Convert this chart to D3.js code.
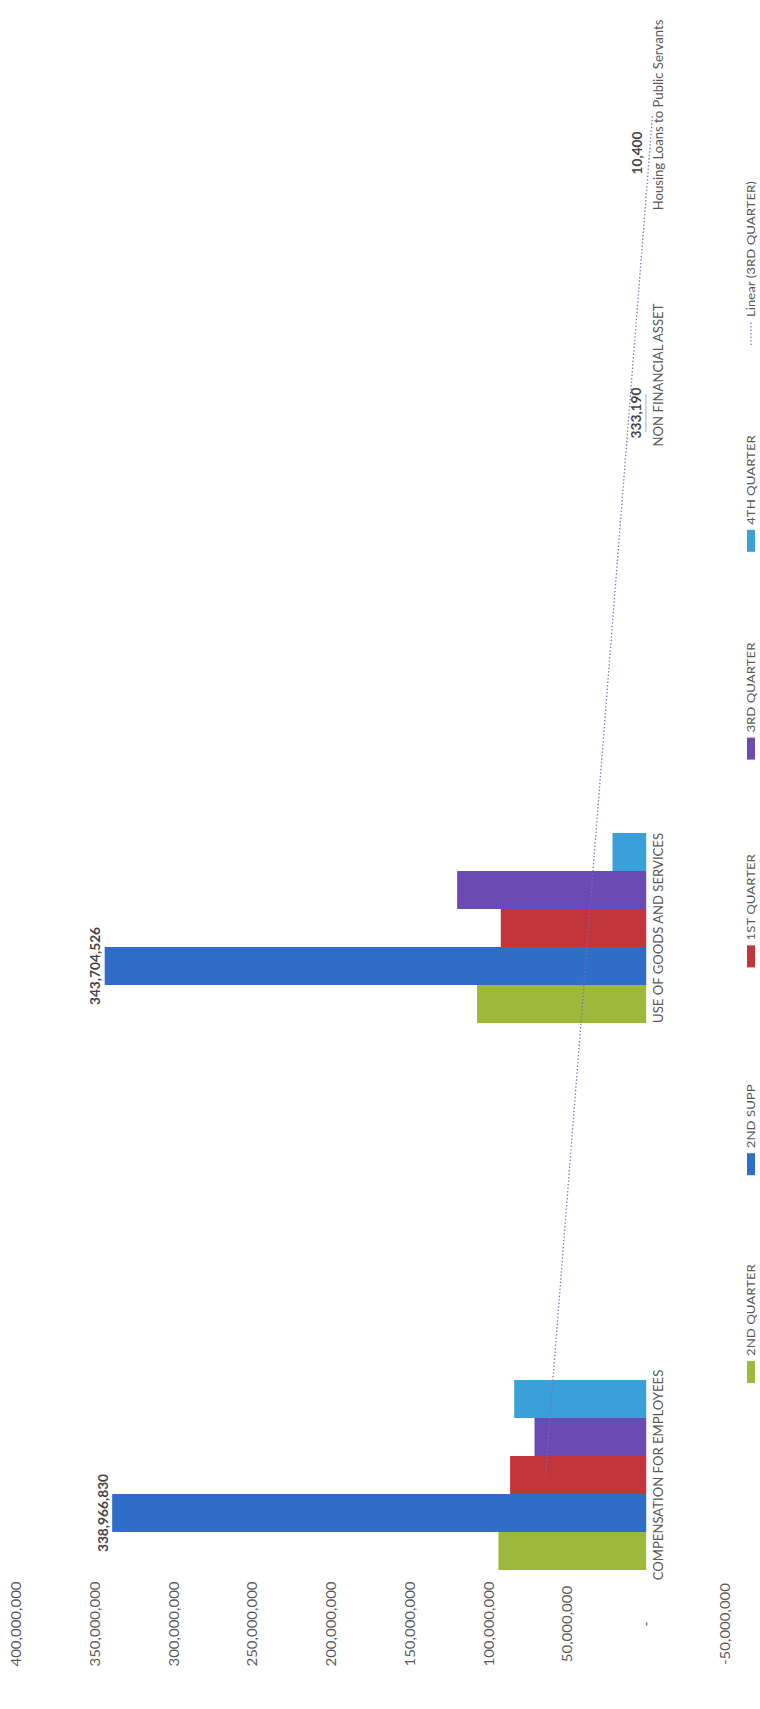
<!DOCTYPE html>
<html lang="en">
<head>
<meta charset="UTF-8">
<title>Expenditure by Quarter</title>
<style>
    body {
        margin: 0;
        background: #fff;
    }
    svg {
        display: block;
        font-family: Lato, "Open Sans", sans-serif;
    }
</style>
</head>
<body>
<svg id="chart" width="760" height="1709"></svg>

<script src="https://d3js.org/d3.v7.min.js"></script>
<script>
    // chart data
    const categories = [
        "COMPENSATION FOR EMPLOYEES",
        "USE OF GOODS AND SERVICES",
        "NON FINANCIAL ASSET",
        "Housing Loans to Public Servants"
    ];
    const seriesNames = ["2ND QUARTER", "2ND SUPP", "1ST QUARTER", "3RD QUARTER", "4TH QUARTER"];
    const secondQuarter = [93800000, 107400000, 0, 0];
    const secondSupp = [338966830, 343704526, 333190, 10400];
    const firstQuarter = [86400000, 92300000, 0, 0];
    const thirdQuarter = [70900000, 120000000, 0, 0];
    const fourthQuarter = [83800000, 21400000, 0, 0];
    // linear trend of 3rd quarter, as drawn: value at first and last category
    const trendThirdQuarter = [64000000, -4000000];
    const trendName = "Linear (3RD QUARTER)";
    const labelledSeries = "2ND SUPP";
    const tickValues = [400000000, 350000000, 300000000, 250000000, 200000000,
        150000000, 100000000, 50000000, 0, -50000000];
    const colors = ["#9db93c", "#2f6ec8", "#c2363b", "#6a4ab3", "#39a0d8"];

    const seriesValues = [secondQuarter, secondSupp, firstQuarter, thirdQuarter, fourthQuarter];
    const series = seriesNames.map((name, i) => ({ name, values: seriesValues[i], color: colors[i] }));

    const svg = d3.select("#chart");

    // the chart is drawn turned a quarter turn: values run right-to-left, categories bottom-to-top
    const x = d3.scaleLinear()
        .domain([-50000000, 400000000])
        .range([725, 16]);

    const catY = d3.scaleLinear()
        .domain([0, 1, 2, 3])
        .range([1475, 928, 375, 115]);

    const inner = d3.scaleBand()
        .domain(seriesNames)
        .range([95, -95]);

    // text turned to read bottom-to-top; sx stretches it along its length
    function vText(sel, px, py, txt, anchor, sx) {
        return sel.append("text")
            .attr("transform", `translate(${px},${py}) rotate(-90) scale(${sx},1)`)
            .attr("text-anchor", anchor)
            .attr("dominant-baseline", "central")
            .text(txt);
    }

    // bars
    const bars = svg.append("g");
    series.forEach(s => {
        bars.selectAll(null)
            .data(s.values)
            .enter().append("rect")
            .attr("x", d => Math.min(x(d), x(0)))
            .attr("y", (d, i) => catY(i) + inner(s.name))
            .attr("width", d => Math.abs(x(0) - x(d)))
            .attr("height", inner.bandwidth())
            .attr("fill", s.color);
    });

    // trend line on top of the bars
    svg.append("line")
        .attr("x1", x(trendThirdQuarter[0]))
        .attr("y1", catY(0))
        .attr("x2", x(trendThirdQuarter[1]))
        .attr("y2", catY(categories.length - 1))
        .attr("stroke", "#6e6ec4")
        .attr("stroke-width", 1.3)
        .attr("stroke-dasharray", "1.3,2.2");

    // data labels
    const fmt = d3.format(",");
    const lab = series.find(s => s.name === labelledSeries);
    const labels = svg.append("g")
        .attr("font-size", 12.5)
        .attr("font-weight", 700)
        .attr("fill", "#454545");
    lab.values.forEach((v, i) => {
        vText(labels, x(v) - 9, catY(i) + inner(lab.name) + inner.bandwidth() / 2, fmt(v), "middle", 1.1);
    });

    // category labels
    const catG = svg.append("g")
        .attr("font-size", 12.5)
        .attr("fill", "#595959");
    categories.forEach((c, i) => vText(catG, x(0) + 12, catY(i), c, "middle", 1.05));

    // value axis labels
    const tickG = svg.append("g")
        .attr("font-size", 12.5)
        .attr("fill", "#595959");
    tickValues.forEach(t => {
        const txt = t === 0 ? "-" : fmt(t).replace("\u2212", "-");
        vText(tickG, x(t), 1624, txt, "middle", 1.2);
    });

    // legend
    const legendItems = seriesNames.concat([trendName]);
    const legPos = d3.scalePoint()
        .domain(legendItems)
        .range([1372, 333]);
    const legG = svg.append("g")
        .attr("font-size", 11.5)
        .attr("fill", "#595959");
    series.forEach(s => {
        legG.append("rect")
            .attr("x", 747)
            .attr("y", legPos(s.name) - 11)
            .attr("width", 8)
            .attr("height", 22)
            .attr("fill", s.color);
        vText(legG, 751, legPos(s.name) - 16, s.name, "start", 1.15);
    });
    legG.append("line")
        .attr("x1", 751)
        .attr("x2", 751)
        .attr("y1", legPos(trendName) + 12)
        .attr("y2", legPos(trendName) - 12)
        .attr("stroke", "#6e6ec4")
        .attr("stroke-width", 1.3)
        .attr("stroke-dasharray", "1.3,2.2");
    vText(legG, 751, legPos(trendName) - 16, trendName, "start", 1.15);
</script>
</body>
</html>
